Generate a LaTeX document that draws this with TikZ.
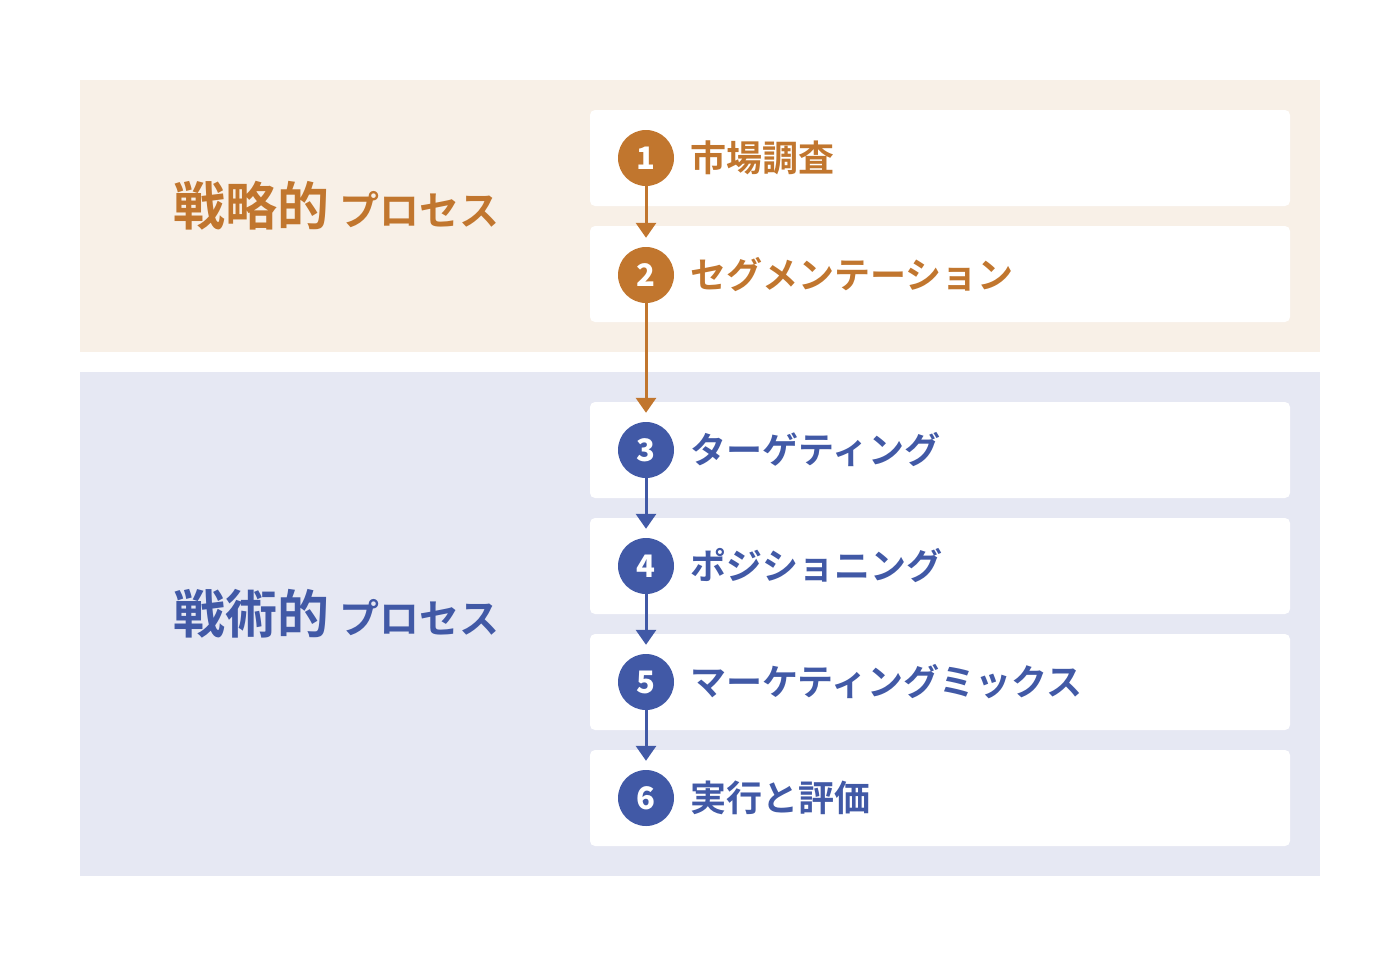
\documentclass[tikz,border=0pt]{standalone}
\usepackage{fontspec}
\usetikzlibrary{arrows.meta}
\newfontfamily\jpfont{Noto Sans CJK JP Bold}
\newfontfamily\jpheavy{Noto Sans CJK JP Black}
\definecolor{stratcol}{HTML}{C1762E}
\definecolor{tactcol}{HTML}{4159A6}
\definecolor{stratbg}{HTML}{F8F0E7}
\definecolor{tactbg}{HTML}{E6E8F3}

\begin{document}
\begin{tikzpicture}[x=1pt, y=-1pt,
    stepbox/.style={fill=white, rounded corners=5pt},
    num/.style={circle, fill=#1, minimum size=56pt, inner sep=0pt, text=white,
        font=\jpheavy\fontsize{31}{31}\selectfont},
    steptext/.style={anchor=west, inner sep=0pt, text=#1,
        font=\jpfont\fontsize{36}{36}\selectfont},
    flow/.style={draw=#1, line width=3pt, shorten >=9pt,
        -{Triangle[width=20pt, length=15pt]}}]
    \useasboundingbox (0,0) rectangle (1400,956);
    % the two phases
    \fill[stratbg] (80,80) rectangle (1320,352);
    \fill[tactbg] (80,372) rectangle (1320,876);
    \node[anchor=base west, inner sep=0pt, text=stratcol] (strat) at (173,225)
        {\jpfont\fontsize{52}{52}\selectfont 戦略的\hspace{10pt}\fontsize{40}{40}\selectfont プロセス};
    \node[anchor=base west, inner sep=0pt, text=tactcol] (tact) at (173,633)
        {\jpfont\fontsize{52}{52}\selectfont 戦術的\hspace{10pt}\fontsize{40}{40}\selectfont プロセス};
    % step boxes
    \foreach \top in {110,226,402,518,634,750}
        \fill[stepbox] (590,\top) rectangle (1290,\top+96);
    % steps
    \node[num=stratcol] (s1) at (646,158) {1};
    \node[steptext=stratcol] (t1) at (690,158) {市場調査};
    \node[num=stratcol] (s2) at (646,275) {2};
    \node[steptext=stratcol] (t2) at (690,275) {セグメンテーション};
    \node[num=tactcol] (s3) at (646,450) {3};
    \node[steptext=tactcol] (t3) at (690,450) {ターゲティング};
    \node[num=tactcol] (s4) at (646,566) {4};
    \node[steptext=tactcol] (t4) at (690,566) {ポジショニング};
    \node[num=tactcol] (s5) at (646,682) {5};
    \node[steptext=tactcol] (t5) at (690,682) {マーケティングミックス};
    \node[num=tactcol] (s6) at (646,798) {6};
    \node[steptext=tactcol] (t6) at (690,798) {実行と評価};
    % arrows
    \draw[flow=stratcol] (s1) -- (s2);
    \draw[flow=stratcol] (s2) -- (s3);
    \draw[flow=tactcol] (s3) -- (s4);
    \draw[flow=tactcol] (s4) -- (s5);
    \draw[flow=tactcol] (s5) -- (s6);
\end{tikzpicture}
\end{document}
